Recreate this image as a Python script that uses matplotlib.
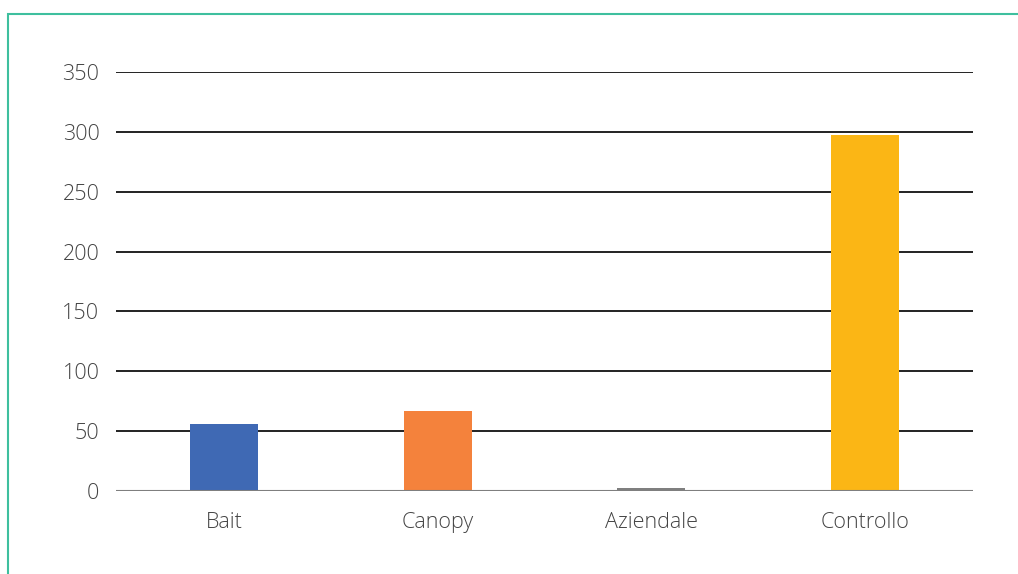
import matplotlib
matplotlib.use("Agg")
import matplotlib.pyplot as plt
from matplotlib.patches import Rectangle

categories = ["Bait", "Canopy", "Aziendale", "Controllo"]
values = [56, 67, 2.5, 297]
colors = ["#3F69B4", "#F4823C", "#7F7F7F", "#FBB615"]
yticks = [0, 50, 100, 150, 200, 250, 300, 350]

plt.rcParams['font.family'] = ['Open Sans', 'DejaVu Sans']

fig = plt.figure(figsize=(10.18, 5.74), dpi=100)
ax = fig.add_axes([116/1018, 1-491/574, (973-116)/1018, (491-72)/574])

x = list(range(len(categories)))
ax.bar(x, values, width=0.318, color=colors, zorder=3)

ax.set_xlim(-0.505, len(categories)-0.495)
ax.set_ylim(0, 350)
ax.set_yticks(yticks)
ax.set_yticklabels([str(t) for t in yticks])
ax.set_xticks(x)
ax.set_xticklabels(categories)
for t in yticks[1:]:
    ax.axhline(t, color="#111111", linewidth=1.3, zorder=1)
ax.axhline(0, color="#7f7f7f", linewidth=1.5, zorder=4)

for s in ax.spines.values():
    s.set_visible(False)
ax.tick_params(axis='both', length=0, labelsize=15.5, labelcolor="#444444")
ax.tick_params(axis='y', pad=12)
ax.tick_params(axis='x', pad=15)
for lbl in ax.get_xticklabels() + ax.get_yticklabels():
    lbl.set_fontweight('light')

fig.patches.append(Rectangle((7.5/1018, -0.1), 1.2, 1 - 13.5/574 + 0.1,
                             transform=fig.transFigure, fill=False,
                             edgecolor="#3EBF9E", linewidth=1.5))

fig.savefig("out.png", dpi=100)
